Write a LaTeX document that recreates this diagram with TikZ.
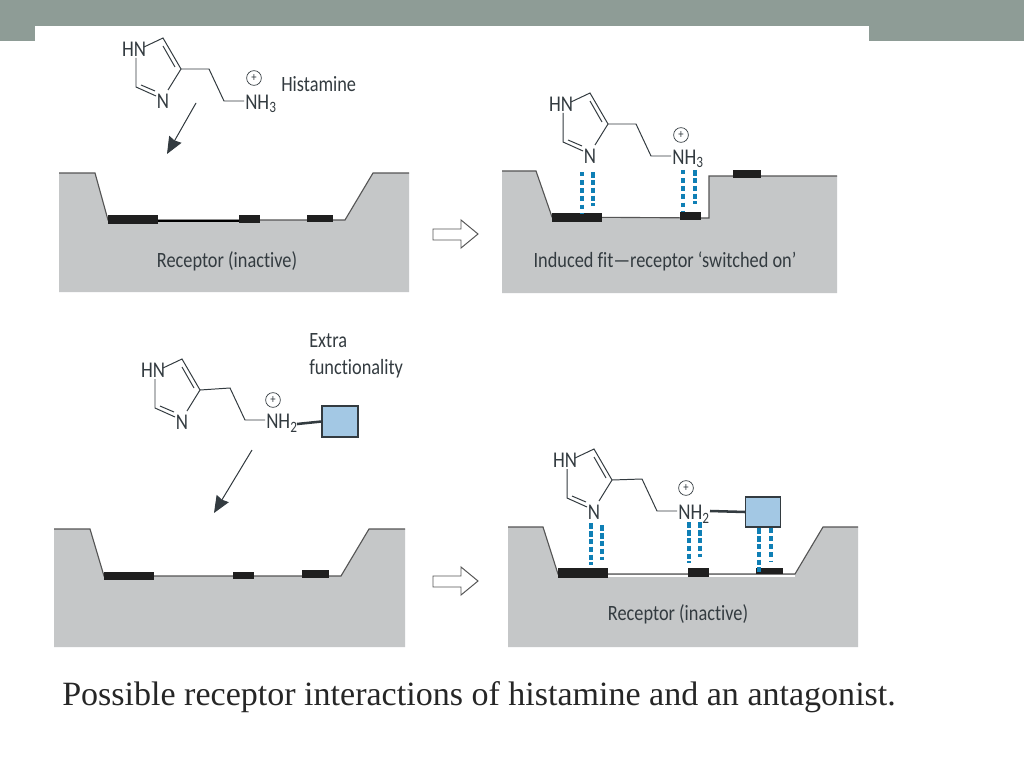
\documentclass[tikz,border=0pt]{standalone}
\usepackage{fontspec}
\setmainfont[FakeStretch=0.84, Ligatures=NoCommon]{Carlito}
\newfontfamily\captionfont{Liberation Serif}
\usetikzlibrary{arrows.meta, positioning, calc}
\definecolor{bandgrey}{HTML}{8E9C96}
\definecolor{pocketgrey}{HTML}{C5C7C8}
\definecolor{rimgrey}{HTML}{555555}
\definecolor{bondblue}{HTML}{0F7FB5}
\definecolor{squareblue}{HTML}{A3C8E4}
\definecolor{inkgrey}{HTML}{333B40}
\tikzset{
	pocket/.style={fill=pocketgrey, draw=none},
	rim/.style={draw=rimgrey, line width=.8pt},
	site/.style={fill=black!88},
	floorline/.style={draw=black, line width=.8pt},
	bond/.style={draw=inkgrey, line width=.7pt},
	atom/.style={text=inkgrey, inner sep=0pt, font=\fontsize{16}{16}\selectfont},
	label/.style={text=inkgrey, inner sep=0pt, font=\fontsize{15.5}{19.4}\selectfont},
	charge/.style={circle, draw=inkgrey, line width=.5pt, inner sep=0pt, minimum size=10.5pt, text=inkgrey, font=\fontsize{9}{9}\selectfont},
	hbondfine/.style={draw=bondblue, line width=2.4pt, dash pattern=on 3.2pt off 2.6pt},
	hbondwide/.style={draw=bondblue, line width=3.4pt, dash pattern=on 4pt off 1.6pt},
	extra/.style={draw=inkgrey, fill=squareblue, line width=.9pt},
	openarrow/.style={draw=rimgrey, fill=white, line width=.7pt},
	dockarrow/.style={-{Stealth[length=12pt, width=10pt, inset=1pt]}, draw=inkgrey, fill=inkgrey, line width=.7pt},
}

% ring and side chain, #1 name, (#2,#3) shift, (#4,#5) chain offset of the tail
\newcommand{\histamine}[6]{
	\begin{scope}[shift={(#2,#3)}]
		\coordinate (#1c4) at (181,69);
		\coordinate (#1c1) at ($(209,69)+(#4,#5)$);
		\coordinate (#1c2) at ($(224,101)+(#4,#5)$);
		\coordinate (#1c3) at ($(244,101)+(#4,#5)$);
		\draw[bond] (144,47) -- (163,38) -- (181,69) -- (168,90);
		\draw[bond] (163,46) -- (175,67);
		\draw[bond] (136,58) -- (136,87) -- (156,96);
		\draw[bond] (141,85) -- (155,91);
		\draw[bond] (#1c4) -- (#1c1) -- (#1c2) -- (#1c3);
		\node[atom] (#1hn) at (134,49) {HN};
		\node[atom] (#1n) at (163,101) {N};
		\node[atom, anchor=west] (#1amine) at ($(#1c3)+(1,3)$) {#6};
	\end{scope}
}

\begin{document}
\begin{tikzpicture}[x=.025cm, y=-.025cm]
	\useasboundingbox (0,0) rectangle (1024,768);
	\fill[white] (0,0) rectangle (1024,768);
	\fill[bandgrey] (0,0) rectangle (1024,41);
	\fill[white] (35,26) rectangle (869,41);

	% top left
	\fill[pocket] (59,173) -- (95,173) -- (108,220) -- (345,220) -- (373,173) -- (409,173) -- (409,292) -- (59,292) -- cycle;
	\draw[rim] (59,173) -- (95,173) -- (108,220) -- (345,220) -- (373,173) -- (409,173);
	\draw[floorline] (158,221) -- (239,221);
	\fill[site] (108,215) rectangle (158,224);
	\fill[site] (239,215) rectangle (260,223);
	\fill[site] (307,215) rectangle (333,222);
	\node[label] (inactiveA) at (227,261) {Receptor (inactive)};
	\histamine{a}{0}{0}{0}{0}{NH\textsubscript{3}}
	\node[charge] (plusA) at (254,78) {+};
	\node[label, anchor=west] (histname) at (281,84) {Histamine};
	\coordinate (dockAs) at (196,103);
	\coordinate (dockAe) at (167,154);
	\draw[dockarrow] (dockAs) -- (dockAe);

	% top right
	\fill[pocket] (502,171) -- (536,171) -- (552,217) -- (709,218) -- (709,176) -- (837,176) -- (837,293) -- (502,293) -- cycle;
	\draw[rim] (502,171) -- (536,171) -- (552,217) -- (709,218) -- (709,176) -- (837,176);
	\fill[site] (552,213) rectangle (602,222);
	\fill[site] (680,212) rectangle (701,220);
	\fill[site] (733,170) rectangle (761,178);
	\draw[hbondfine] (582,172) -- (582,213);
	\draw[hbondwide] (593,172) -- (593,206);
	\draw[hbondfine] (683,170) -- (683,211);
	\draw[hbondwide] (695,170) -- (695,204);
	\node[label] (inducedfit) at (665,261) {Induced fit—receptor ‘switched on’};
	\histamine{b}{427}{55}{0}{0}{NH\textsubscript{3}}
	\node[charge] (plusB) at (681,135) {+};

	% bottom left
	\fill[pocket] (54,529) -- (90,529) -- (104,576) -- (341,576) -- (369,529) -- (405,529) -- (405,647) -- (54,647) -- cycle;
	\draw[rim] (54,529) -- (90,529) -- (104,576) -- (341,576) -- (369,529) -- (405,529);
	\fill[site] (104,572) rectangle (154,580);
	\fill[site] (233,572) rectangle (254,579);
	\fill[site] (302,570) rectangle (329,578);
	\histamine{c}{19}{321}{2}{-2}{NH\textsubscript{2}}
	\node[charge] (plusC) at (273,400) {+};
	\node[extra, minimum width=.9cm, minimum height=.78cm, inner sep=0pt] (squareC) at (340,421.5) {};
	\draw[bond, line width=1.8pt] (297,424) -- (squareC.west);
	\node[label, align=left, anchor=north west] (extraname) at (309,333) {Extra\\functionality};
	\coordinate (dockCs) at (252,450);
	\coordinate (dockCe) at (214,513);
	\draw[dockarrow] (dockCs) -- (dockCe);

	% bottom right
	\fill[pocket] (508,527) -- (543,527) -- (558,574) -- (795,574) -- (823,527) -- (858,527) -- (858,647) -- (508,647) -- cycle;
	\draw[white, line width=.8pt] (608,576) -- (795,576);
	\draw[rim] (508,527) -- (543,527) -- (558,574) -- (795,574) -- (823,527) -- (858,527);
	\fill[site] (558,568) rectangle (608,578);
	\fill[site] (688,568) rectangle (709,577);
	\fill[site] (756,568) rectangle (783,574);
	\draw[hbondwide] (591,523) -- (591,565);
	\draw[hbondwide] (602,525) -- (602,560);
	\draw[hbondwide] (689,522) -- (689,563);
	\draw[hbondwide] (700,522) -- (700,557);
	\draw[hbondwide] (759,528) -- (759,572);
	\draw[hbondfine] (771,528) -- (771,562);
	\node[label] (inactiveD) at (678,614) {Receptor (inactive)};
	\histamine{d}{431}{411}{2}{-1}{NH\textsubscript{2}}
	\node[charge] (plusD) at (686,488) {+};
	\node[extra, minimum width=.86cm, minimum height=.75cm, inner sep=0pt] (squareD) at (763,512) {};
	\draw[bond, line width=1.8pt] (710,511) -- (squareD.west);

	% open arrows between the panels
	\draw[openarrow] (433,229) -- (461,229) -- (461,220) -- (478,234) -- (461,248) -- (461,240) -- (433,240) -- cycle;
	\draw[openarrow] (433,576) -- (461,576) -- (461,567) -- (478,581) -- (461,595) -- (461,587) -- (433,587) -- cycle;

	\node[anchor=base west, inner sep=0pt, font=\captionfont\fontsize{24.2}{28}\selectfont, text=black!85] (caption) at (62,705) {Possible receptor interactions of histamine and an antagonist.};
\end{tikzpicture}
\end{document}
